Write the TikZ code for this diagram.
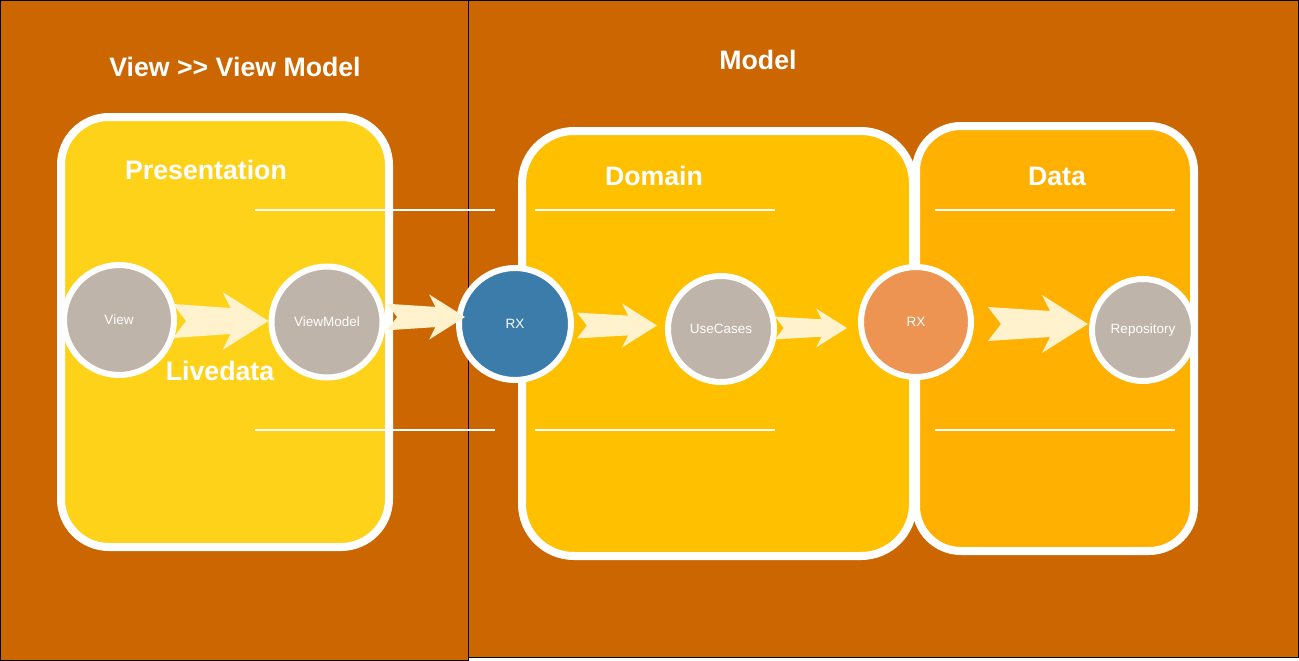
\documentclass[tikz,border=0pt]{standalone}
\usepackage{fontspec}
\setmainfont{Liberation Sans}
\usetikzlibrary{calc}
\definecolor{bgorange}{HTML}{CC6600}
\definecolor{presyellow}{HTML}{FFD21A}
\definecolor{domyellow}{HTML}{FFC000}
\definecolor{dataorange}{HTML}{FFB000}
\definecolor{compgray}{HTML}{BFB4A9}
\definecolor{rxblue}{HTML}{3B7CAA}
\definecolor{rxorange}{HTML}{EE9452}
\definecolor{cream}{HTML}{FFF2CC}
\tikzset{
    %Define style for the two halves
    half/.style={
           draw=black,
           line width=1pt,
           fill=bgorange},
    %Define style for layers
    layer/.style={
           draw=white,
           line width=8pt,
           rounded corners=48pt},
    %Define style for circles
    comp/.style={
           circle,
           draw=white,
           line width=6pt,
           inner sep=0pt,
           text=white,
           font=\fontsize{13.5}{16}\selectfont,
           fill=compgray},
    heading/.style={
           inner sep=0pt,
           text=white,
           font=\fontsize{26.7}{32}\selectfont\bfseries},
    % Define separator style
    sep/.style={
           draw=white,
           line width=2pt},
    flow/.style={fill=cream}
}
% fat notched arrow: size, tail, tip
\newcommand{\flowarrow}[3]{%
  \fill[flow] ($(#2)+(0,-17*#1)$) -- ($(#3)+(-38*#1,-13*#1)$)
    -- ($(#3)+(-46*#1,-29*#1)$) -- (#3) -- ($(#3)+(-46*#1,29*#1)$)
    -- ($(#3)+(-38*#1,13*#1)$) -- ($(#2)+(0,17*#1)$)
    -- ($(#2)+(13*#1,0)$) -- cycle;}
\begin{document}
\begin{tikzpicture}[x=1pt,y=-1pt]
\useasboundingbox (0,0) rectangle (1299,661);

 %background
\draw[half] (0.5,0.5) rectangle (468,660);
\draw[half] (468,0.5) rectangle (1298.5,657);

 %layers
\draw[layer, fill=presyellow] (61,117) rectangle (389,547);
\draw[layer, fill=domyellow, rounded corners=52pt] (522,131) rectangle (913,556);
\draw[layer, fill=dataorange, rounded corners=45pt] (916,126) rectangle (1194,551);
\draw[sep] (255,210) -- (495,210);
\draw[sep] (255,430) -- (495,430);
\draw[sep] (535,210) -- (775,210);
\draw[sep] (535,430) -- (775,430);
\draw[sep] (935,210) -- (1175,210);
\draw[sep] (935,430) -- (1175,430);

 %nodes
\node[comp, minimum size=110pt] (1) at (119,320) {View};
\node[comp, minimum size=111pt] (2) at (327,322) {ViewModel};
\node[comp, minimum size=112pt, fill=rxblue] (3) at (515,324) {RX};
\node[comp, minimum size=106pt] (4) at (721,329) {UseCases};
\node[comp, minimum size=110pt, fill=rxorange] (5) at (916,322) {RX};
\node[comp, minimum size=102pt] (6) at (1143,330) {Repository};

 %arrows
\flowarrow{1}{$(1.east)+(-4,1)$}{$(2.west)+(0,-1)$}
\flowarrow{0.78}{$(2.east)+(1.5,-5)$}{$(3.west)+(9,-7)$}
\flowarrow{0.76}{$(3.east)+(3,1.5)$}{$(4.west)+(-8,-3.5)$}
\flowarrow{0.67}{$(4.east)+(-2,-1)$}{$(5.west)+(-11,6)$}
\flowarrow{1}{$(5.east)+(14,2)$}{$(6.west)+(-1,-6)$}

 %labels
\node[heading] (vvm) at (235,67) {View >{}> View Model};
\node[heading] (model) at (758,60) {Model};
\node[heading] (pres) at (206,170) {Presentation};
\node[heading] (dom) at (654,176) {Domain};
\node[heading] (dat) at (1057,176) {Data};
\node[heading] (live) at (220,371) {Livedata};

\end{tikzpicture}
\end{document}
